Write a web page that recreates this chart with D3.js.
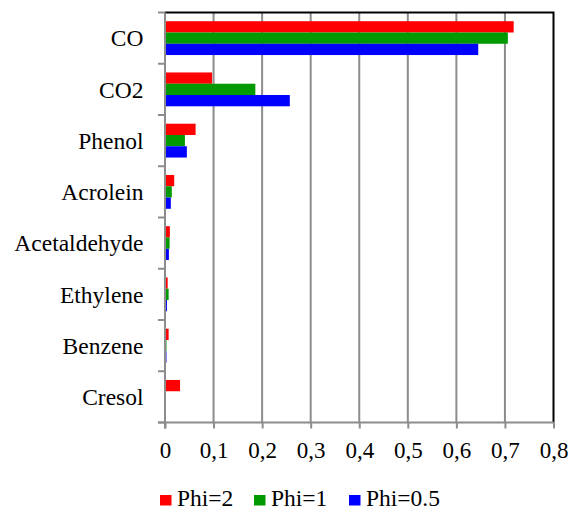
<!DOCTYPE html>
<html>
<head>
<meta charset="utf-8">
<script src="https://cdn.jsdelivr.net/npm/d3@7/dist/d3.min.js"></script>
<style>
  html, body { margin: 0; padding: 0; background: #fff; }
  svg { display: block; }
</style>
</head>
<body>
<svg id="chart" width="570" height="510"></svg>
<script>
// Product yields by species for three equivalence ratios
const categories = ["CO", "CO2", "Phenol", "Acrolein", "Acetaldehyde", "Ethylene", "Benzene", "Cresol"];
const seriesNames = ["Phi=2", "Phi=1", "Phi=0.5"];
const phi2 = [0.718, 0.097, 0.063, 0.019, 0.010, 0.0055, 0.0075, 0.031];
const phi1 = [0.706, 0.186, 0.041, 0.014, 0.0095, 0.0075, 0.003, 0.001];
const phi05 = [0.645, 0.257, 0.045, 0.012, 0.008, 0.004, 0.003, 0.0];
const xTicks = [0, 0.1, 0.2, 0.3, 0.4, 0.5, 0.6, 0.7, 0.8];
const colors = ["#ff0000", "#009900", "#0000ff"];

const serif = '"Liberation Serif"';
const seriesValues = [phi2, phi1, phi05];
const rows = categories.map((c, i) => ({
  name: c,
  values: seriesNames.map((s, j) => ({ series: s, value: seriesValues[j][i], color: colors[j] }))
}));

const svg = d3.select("#chart");
const plotLeft = 165, plotRight = 553.5, plotTop = 12.5, plotBottom = 422.5;

const x = d3.scaleLinear().domain([0, 0.8]).range([plotLeft, plotRight]);
const y = d3.scaleBand().domain(categories).range([plotTop, plotBottom]).paddingInner(0.34).paddingOuter(0.17);
const ySub = d3.scaleBand().domain(seriesNames).range([0, y.bandwidth()]);

// vertical gridlines
svg.append("g")
  .selectAll("line")
  .data(xTicks.slice(1, -1))
  .join("line")
  .attr("x1", d => x(d)).attr("x2", d => x(d))
  .attr("y1", plotTop).attr("y2", plotBottom)
  .attr("stroke", "#8c8c8c").attr("stroke-width", 2);

// plot frame: top and right edges in black
svg.append("path")
  .attr("d", `M${plotLeft},${plotTop}H${plotRight}V${plotBottom}`)
  .attr("fill", "none").attr("stroke", "#000").attr("stroke-width", 2);

// bars
const groups = svg.append("g")
  .selectAll("g")
  .data(rows)
  .join("g")
  .attr("transform", d => `translate(0,${y(d.name)})`);

groups.selectAll("rect")
  .data(d => d.values)
  .join("rect")
  .attr("x", x(0))
  .attr("y", d => ySub(d.series))
  .attr("width", d => x(d.value) - x(0))
  .attr("height", ySub.bandwidth())
  .attr("fill", d => d.color);

// x axis
const fmt = d => d === 0 ? "0" : d3.format(".1f")(d).replace(".", ",");
const xAxis = svg.append("g")
  .attr("transform", `translate(0,${plotBottom})`)
  .call(d3.axisBottom(x).tickValues(xTicks).tickFormat(fmt).tickSize(6));
xAxis.attr("font-family", null).attr("font-size", null);
xAxis.select(".domain").attr("stroke", "#8c8c8c").attr("stroke-width", 2)
  .attr("d", `M${plotLeft - 7},0H${plotRight}`);
xAxis.selectAll(".tick line").attr("stroke", "#8c8c8c").attr("stroke-width", 2);
xAxis.selectAll(".tick text")
  .attr("y", 35).attr("dy", null)
  .attr("fill", "#000")
  .style("font-size", "23px")
  .style("font-family", serif);

// y axis: ticks at category boundaries
const boundaries = d3.range(categories.length + 1).map(i => plotTop + i * (plotBottom - plotTop) / categories.length);
svg.append("line")
  .attr("x1", plotLeft).attr("x2", plotLeft).attr("y1", plotTop).attr("y2", plotBottom + 6)
  .attr("stroke", "#8c8c8c").attr("stroke-width", 2);
svg.append("g")
  .selectAll("line")
  .data(boundaries)
  .join("line")
  .attr("x1", plotLeft - 7).attr("x2", plotLeft)
  .attr("y1", d => d).attr("y2", d => d)
  .attr("stroke", "#8c8c8c").attr("stroke-width", 2);

svg.append("g")
  .selectAll("text")
  .data(categories)
  .join("text")
  .attr("x", 143.5)
  .attr("y", d => y(d) + y.bandwidth() / 2)
  .attr("dy", "0.35em")
  .attr("text-anchor", "end")
  .style("font-size", "23.5px")
  .style("font-family", serif)
  .text(d => d);

// legend
const legendX = [160, 254, 349];
const legend = svg.append("g")
  .selectAll("g")
  .data(seriesNames)
  .join("g")
  .attr("transform", (d, i) => `translate(${legendX[i]},0)`);
legend.append("rect")
  .attr("x", 0).attr("y", 495).attr("width", 11.5).attr("height", 10.5)
  .attr("fill", (d, i) => colors[i]);
legend.append("text")
  .attr("x", 17).attr("y", 506)
  .style("font-size", "23.5px")
  .style("font-family", serif)
  .text(d => d);
</script>
</body>
</html>
